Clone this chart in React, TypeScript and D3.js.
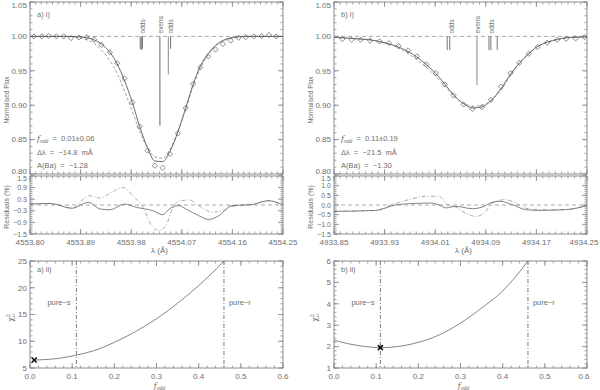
import React from 'react';
import * as d3 from 'd3';

const W = 600, H = 390;
const FONT = '"Liberation Sans", Arial, sans-serif';
const TXT = '#6e6e6e';
const AX = '#8c8c8c';

// ---------- panel a) i) : Ba 4554 ----------
const leftLambda = [4553.807, 4553.821, 4553.833, 4553.847, 4553.860, 4553.873, 4553.887, 4553.901, 4553.914, 4553.927, 4553.942, 4553.955, 4553.968, 4553.982, 4553.995, 4554.009, 4554.022, 4554.036, 4554.049, 4554.063, 4554.077, 4554.090, 4554.103, 4554.117, 4554.130, 4554.143, 4554.157, 4554.171, 4554.184, 4554.198, 4554.212, 4554.225, 4554.238];
const leftObs = [1.000, 1.000, 1.0005, 1.000, 1.000, 0.9976, 0.9985, 0.999, 0.9956, 0.9879, 0.977, 0.961, 0.939, 0.904, 0.869, 0.834, 0.812, 0.809, 0.829, 0.859, 0.896, 0.931, 0.955, 0.971, 0.981, 0.989, 0.994, 0.998, 0.999, 1.000, 1.0005, 1.002, 1.000];
const leftModelLambda = [4553.80, 4553.807, 4553.821, 4553.833, 4553.847, 4553.860, 4553.873, 4553.887, 4553.901, 4553.914, 4553.927, 4553.942, 4553.955, 4553.968, 4553.982, 4553.995, 4554.009, 4554.022, 4554.036, 4554.049, 4554.063, 4554.077, 4554.090, 4554.103, 4554.117, 4554.130, 4554.143, 4554.157, 4554.171, 4554.184, 4554.198, 4554.212, 4554.225, 4554.238, 4554.25];
const leftFit = [1.000, 1.000, 1.000, 1.000, 1.000, 1.000, 1.000, 0.9995, 0.998, 0.995, 0.989, 0.977, 0.960, 0.936, 0.904, 0.869, 0.838, 0.819, 0.818, 0.833, 0.861, 0.896, 0.930, 0.957, 0.975, 0.987, 0.994, 0.998, 0.9995, 1.000, 1.000, 1.000, 1.000, 1.000, 1.000];
const leftAlt = [1.000, 1.000, 1.000, 1.000, 1.000, 1.000, 0.9995, 0.998, 0.995, 0.990, 0.980, 0.965, 0.946, 0.921, 0.891, 0.862, 0.838, 0.825, 0.823, 0.836, 0.862, 0.894, 0.927, 0.954, 0.973, 0.986, 0.993, 0.997, 0.999, 1.000, 1.000, 1.000, 1.000, 1.000, 1.000];
const leftHfsLambda = [4553.996, 4553.998, 4554.000, 4554.031, 4554.046, 4554.050];
const leftHfsDepth = [0.018, 0.020, 0.018, 0.130, 0.055, 0.018];
const leftHfsLabelLambda = [4553.999, 4554.031, 4554.049];
const hfsLabels = ['odds', 'evens', 'odds'];

const leftResFitLambda = [4553.80, 4553.836, 4553.875, 4553.904, 4553.924, 4553.942, 4553.968, 4553.989, 4554.018, 4554.036, 4554.048, 4554.065, 4554.077, 4554.100, 4554.118, 4554.136, 4554.159, 4554.194, 4554.224, 4554.25];
const leftResFit = [0.05, 0.08, -0.17, 0.14, -0.20, -0.25, 0.05, -0.12, -0.29, -0.50, -0.20, -0.03, -0.20, -0.55, -0.75, -0.55, -0.03, 0.02, 0.22, 0.0];
const leftResAltLambda = [4553.80, 4553.836, 4553.875, 4553.895, 4553.907, 4553.924, 4553.948, 4553.965, 4553.983, 4554.001, 4554.018, 4554.030, 4554.042, 4554.053, 4554.068, 4554.083, 4554.100, 4554.124, 4554.141, 4554.159, 4554.194, 4554.224, 4554.25];
const leftResAlt = [0.05, 0.08, -0.17, 0.30, 0.48, 0.36, 0.70, 0.90, 0.48, -0.12, -1.14, -1.31, -1.06, -0.20, 0.22, 0.26, -0.03, -0.37, -0.32, -0.08, 0.02, 0.22, 0.0];

// ---------- panel b) i) : Ba 4934 ----------
const rightLambda = [4933.863, 4933.878, 4933.892, 4933.907, 4933.922, 4933.937, 4933.952, 4933.967, 4933.981, 4933.996, 4934.011, 4934.025, 4934.039, 4934.055, 4934.069, 4934.084, 4934.098, 4934.114, 4934.129, 4934.143, 4934.158, 4934.172, 4934.187, 4934.203, 4934.217, 4934.232, 4934.246];
const rightObs = [0.9961, 0.9951, 0.9951, 0.9937, 0.9927, 0.9903, 0.9859, 0.9796, 0.9709, 0.9592, 0.9466, 0.9301, 0.9141, 0.9010, 0.8947, 0.8971, 0.9078, 0.9270, 0.9466, 0.9617, 0.9748, 0.9845, 0.9908, 0.9951, 0.9966, 0.9971, 0.9990];
const rightModelLambda = [4933.85, 4933.863, 4933.878, 4933.892, 4933.907, 4933.922, 4933.937, 4933.952, 4933.967, 4933.981, 4933.996, 4934.011, 4934.025, 4934.039, 4934.055, 4934.069, 4934.084, 4934.098, 4934.114, 4934.129, 4934.143, 4934.158, 4934.172, 4934.187, 4934.203, 4934.217, 4934.232, 4934.246, 4934.25];
const rightFit = [0.9985, 0.998, 0.997, 0.9962, 0.995, 0.9925, 0.989, 0.9845, 0.978, 0.970, 0.959, 0.946, 0.931, 0.915, 0.902, 0.896, 0.8975, 0.9065, 0.924, 0.945, 0.961, 0.975, 0.9853, 0.9915, 0.9955, 0.998, 0.9988, 0.9993, 0.9995];
const rightAlt = [0.9985, 0.998, 0.997, 0.9962, 0.995, 0.9925, 0.989, 0.983, 0.975, 0.966, 0.955, 0.942, 0.928, 0.914, 0.903, 0.8985, 0.900, 0.9065, 0.922, 0.943, 0.961, 0.975, 0.9853, 0.9915, 0.9955, 0.998, 0.9988, 0.9993, 0.9995];
const rightHfsLambda = [4934.029, 4934.033, 4934.076, 4934.095, 4934.098, 4934.108];
const rightHfsDepth = [0.020, 0.020, 0.071, 0.020, 0.020, 0.020];
const rightHfsLabelLambda = [4934.035, 4934.076, 4934.099];

const rightResFitLambda = [4933.85, 4933.916, 4933.947, 4933.969, 4934.003, 4934.016, 4934.027, 4934.042, 4934.069, 4934.085, 4934.100, 4934.113, 4934.132, 4934.153, 4934.174, 4934.216, 4934.25];
const rightResFit = [-0.33, -0.28, 0.0, 0.07, 0.10, 0.0, -0.15, -0.07, -0.19, -0.10, 0.14, 0.19, 0.02, -0.24, -0.28, -0.24, -0.03];
const rightResAltLambda = [4933.85, 4933.916, 4933.942, 4933.969, 4933.995, 4934.016, 4934.029, 4934.042, 4934.063, 4934.074, 4934.090, 4934.100, 4934.121, 4934.137, 4934.153, 4934.174, 4934.216, 4934.25];
const rightResAlt = [-0.33, -0.28, 0.02, 0.28, 0.45, 0.45, 0.02, -0.10, -0.50, -0.59, -0.33, 0.10, 0.28, 0.10, -0.16, -0.24, -0.24, -0.03];

// ---------- chi-square panels ----------
const leftChiF = [0.01, 0.05, 0.08, 0.11, 0.15, 0.20, 0.25, 0.30, 0.35, 0.40, 0.43, 0.46];
const leftChi = [6.5, 6.65, 6.95, 7.4, 8.2, 9.8, 11.8, 14.2, 17.1, 20.4, 22.6, 25.0];
const rightChiF = [0.0, 0.03, 0.06, 0.09, 0.11, 0.15, 0.20, 0.25, 0.30, 0.35, 0.40, 0.43, 0.46];
const rightChi = [2.30, 2.15, 2.04, 1.97, 1.95, 2.0, 2.2, 2.55, 3.1, 3.8, 4.6, 5.25, 6.0];
const leftBest = [0.01, 6.5];
const rightBest = [0.11, 1.95];
const pureLimits = [0.11, 0.46];

// ---------- ticks & texts ----------
const leftXTicks = [4553.80, 4553.89, 4553.98, 4554.07, 4554.16, 4554.25];
const rightXTicks = [4933.85, 4933.93, 4934.01, 4934.09, 4934.17, 4934.25];
const fluxTicks = [0.80, 0.85, 0.90, 0.95, 1.00, 1.05];
const leftResTicks = [-1.5, -0.9, -0.3, 0.3, 0.9, 1.5];
const rightResTicks = [-1.5, -1.0, -0.5, 0.0, 0.5, 1.0, 1.5];
const fTicks = [0.0, 0.1, 0.2, 0.3, 0.4, 0.5, 0.6];
const leftChiTicks = [5, 10, 15, 20, 25];
const rightChiTicks = [1, 2, 3, 4, 5, 6];
const leftStats = ['0.01±0.06', '−14.8', '−1.28'];
const rightStats = ['0.11±0.19', '−21.5', '−1.30'];

const COLS = [{ x0: 30, x1: 283 }, { x0: 334, x1: 587 }];
const FLUX = { y0: 2, y1: 174 };
const RES = { y0: 176, y1: 234 };
const CHI = { y0: 261, y1: 368 };

function minorTicks(domain: number[], step: number) {
  const [a, b] = domain;
  const n = Math.round((b - a) / step);
  return d3.range(n + 1).map((i) => a + i * step);
}

type FrameProps = {
  xs: any; ys: any; xMajor: number[]; xMinorStep: number; yMajor: number[]; yMinorStep: number;
  xFmt?: (v: number) => string; yFmt: (v: number) => string; showX: boolean;
  topPad?: number; bottomPad?: number; labelSize?: number;
};

function Frame({ xs, ys, xMajor, xMinorStep, yMajor, yMinorStep, xFmt, yFmt, showX, topPad, bottomPad, labelSize }: FrameProps) {
  const [x0, x1] = xs.range();
  const [y1, y0] = ys.range();
  const xMin = minorTicks(xs.domain(), xMinorStep);
  const yMin = minorTicks(ys.domain(), yMinorStep);
  const M = 5, m = 2.5;
  const fs = labelSize || 8;
  return (
    <g>
      <rect x={x0} y={y0} width={x1 - x0} height={y1 - y0} fill="none" stroke={AX} strokeWidth={1} />
      {xMin.map((v, i) => (
        <g key={'xm' + i} stroke={AX} strokeWidth={0.8}>
          <line x1={xs(v)} x2={xs(v)} y1={y1} y2={y1 - m} />
          <line x1={xs(v)} x2={xs(v)} y1={y0} y2={y0 + m} />
        </g>
      ))}
      {xMajor.map((v, i) => (
        <g key={'xM' + i} stroke={AX} strokeWidth={0.9}>
          <line x1={xs(v)} x2={xs(v)} y1={y1} y2={y1 - M} />
          <line x1={xs(v)} x2={xs(v)} y1={y0} y2={y0 + M} />
        </g>
      ))}
      {yMin.map((v, i) => (
        <g key={'ym' + i} stroke={AX} strokeWidth={0.8}>
          <line x1={x0} x2={x0 + m} y1={ys(v)} y2={ys(v)} />
          <line x1={x1} x2={x1 - m} y1={ys(v)} y2={ys(v)} />
        </g>
      ))}
      {yMajor.map((v, i) => (
        <g key={'yM' + i} stroke={AX} strokeWidth={0.9}>
          <line x1={x0} x2={x0 + M} y1={ys(v)} y2={ys(v)} />
          <line x1={x1} x2={x1 - M} y1={ys(v)} y2={ys(v)} />
        </g>
      ))}
      {yMajor.map((v, i) => {
        let cy = ys(v);
        if (topPad !== undefined) cy = Math.max(cy, y0 + topPad);
        if (bottomPad !== undefined) cy = Math.min(cy, y1 - bottomPad);
        return (
          <text key={'yl' + i} x={x0 - 3} y={cy + fs * 0.36} textAnchor="end" fontSize={fs} fill={TXT} fontFamily={FONT}>
            {yFmt(v)}
          </text>
        );
      })}
      {showX && xFmt && xMajor.map((v, i) => (
        <text key={'xl' + i} x={Math.min(xs(v), W - 16)} y={y1 + 10.5} textAnchor="middle" fontSize={8} fill={TXT} fontFamily={FONT}>
          {xFmt(v)}
        </text>
      ))}
    </g>
  );
}

const diamond = 'M0,-2.6L2.6,0L0,2.6L-2.6,0Z';

function SpectrumColumn(props: {
  col: { x0: number; x1: number }; xDomain: number[]; xTicks: number[];
  lam: number[]; obs: number[]; mLam: number[]; fit: number[]; alt: number[];
  hfsLam: number[]; hfsDepth: number[]; hfsLabLam: number[];
  rFitLam: number[]; rFit: number[]; rAltLam: number[]; rAlt: number[];
  resTicks: number[]; resMinor: number; tag: string; stats: string[];
}) {
  const p = props;
  const xs = d3.scaleLinear().domain(p.xDomain).range([p.col.x0, p.col.x1]);
  const yf = d3.scaleLinear().domain([0.80, 1.05]).range([FLUX.y1, FLUX.y0]);
  const yr = d3.scaleLinear().domain([-1.5, 1.5]).range([RES.y1, RES.y0]);
  const mk = (ys: any) => d3.line<[number, number]>().x((d) => xs(d[0])).y((d) => ys(d[1])).curve(d3.curveMonotoneX);
  const fitPath = mk(yf)(p.mLam.map((l, i) => [l, p.fit[i]]));
  const altPath = mk(yf)(p.mLam.map((l, i) => [l, p.alt[i]]));
  const rFitPath = mk(yr)(p.rFitLam.map((l, i) => [l, p.rFit[i]]));
  const rAltPath = mk(yr)(p.rAltLam.map((l, i) => [l, p.rAlt[i]]));
  const tx = p.col.x0 + 7;
  const cx = (p.col.x0 + p.col.x1) / 2;
  return (
    <g>
      <Frame xs={xs} ys={yf} xMajor={p.xTicks} xMinorStep={0.01} yMajor={fluxTicks} yMinorStep={0.01}
        yFmt={d3.format('.2f')} showX={false} topPad={3} bottomPad={3} />
      <Frame xs={xs} ys={yr} xMajor={p.xTicks} xMinorStep={0.01} yMajor={p.resTicks} yMinorStep={p.resMinor}
        yFmt={d3.format('.1f')} xFmt={d3.format('.2f')} showX topPad={2.5} labelSize={7} />
      {/* reference lines */}
      <line x1={p.col.x0} x2={p.col.x1} y1={yf(1)} y2={yf(1)} stroke="#a0a0a0" strokeDasharray="4,3" strokeWidth={0.9} />
      <line x1={p.col.x0} x2={p.col.x1} y1={yr(0)} y2={yr(0)} stroke="#a0a0a0" strokeDasharray="4,3" strokeWidth={0.9} />
      {/* hyperfine components */}
      {p.hfsLam.map((l, i) => (
        <line key={'h' + i} x1={xs(l)} x2={xs(l)} y1={yf(1)} y2={yf(1 - p.hfsDepth[i])}
          stroke={p.hfsDepth[i] > 0.05 ? '#8a8a8a' : '#777'} strokeWidth={p.hfsDepth[i] > 0.1 ? 1.3 : 1} />
      ))}
      {p.hfsLabLam.map((l, i) => (
        <text key={'hl' + i} transform={`translate(${xs(l) + 3},${yf(1) - 3}) rotate(-90)`} fontSize={6.5}
          fill={TXT} fontFamily={FONT}>{hfsLabels[i]}</text>
      ))}
      <path d={altPath || ''} fill="none" stroke="#9a9a9a" strokeWidth={0.9} strokeDasharray="3,2" />
      <path d={fitPath || ''} fill="none" stroke="#5a5a5a" strokeWidth={0.9} />
      {p.lam.map((l, i) => (
        <path key={'o' + i} d={diamond} transform={`translate(${xs(l)},${yf(p.obs[i])})`} fill="none" stroke="#5a5a5a" strokeWidth={0.7} />
      ))}
      <path d={rAltPath || ''} fill="none" stroke="#a0a0a0" strokeWidth={0.9} strokeDasharray="4,2,1,2" />
      <path d={rFitPath || ''} fill="none" stroke="#666" strokeWidth={0.8} />
      {/* annotations */}
      <text x={tx} y={17} fontSize={7.5} fill={TXT} fontFamily={FONT}>{p.tag}</text>
      <text x={tx} y={141} fontSize={7.5} fill={TXT} fontFamily={FONT} style={{ whiteSpace: 'pre' }}>
        <tspan fontStyle="italic" fontFamily="'DejaVu Serif', serif" fontSize={8}>f</tspan>
        <tspan fontSize={5} dy={2} fontStyle="italic">odd</tspan>
        <tspan dy={-2}>{'  =  ' + p.stats[0]}</tspan>
      </text>
      <text x={tx} y={155} fontSize={7.5} fill={TXT} fontFamily={FONT} style={{ whiteSpace: 'pre' }}>
        {'Δλ  =  ' + p.stats[1] + '  mÅ'}
      </text>
      <text x={tx} y={168} fontSize={7.5} fill={TXT} fontFamily={FONT} style={{ whiteSpace: 'pre' }}>
        {'A(Ba)  =  ' + p.stats[2]}
      </text>
      <text transform={`translate(${p.col.x0 - 21},100) rotate(-90)`} textAnchor="middle" fontSize={6.5} fill={TXT} fontFamily={FONT}>
        Normalised Flux
      </text>
      <text transform={`translate(${p.col.x0 - 21},207) rotate(-90)`} textAnchor="middle" fontSize={7} fill={TXT} fontFamily={FONT}>
        Residuals (%)
      </text>
      <text x={cx + 3} y={253} textAnchor="middle" fontSize={8} fill={TXT} fontFamily={FONT}>λ (Å)</text>
    </g>
  );
}

function ChiColumn(props: {
  col: { x0: number; x1: number }; yDomain: number[]; yTicks: number[]; yMinor: number;
  f: number[]; chi: number[]; best: number[]; tag: string;
}) {
  const p = props;
  const xs = d3.scaleLinear().domain([0, 0.6]).range([p.col.x0, p.col.x1]);
  const ys = d3.scaleLinear().domain(p.yDomain).range([CHI.y1, CHI.y0]);
  const path = d3.line<[number, number]>().x((d) => xs(d[0])).y((d) => ys(d[1])).curve(d3.curveMonotoneX)(
    p.f.map((v, i) => [v, p.chi[i]])
  );
  const bx = xs(p.best[0]), by = ys(p.best[1]);
  const cx = (p.col.x0 + p.col.x1) / 2;
  return (
    <g>
      <Frame xs={xs} ys={ys} xMajor={fTicks} xMinorStep={0.02} yMajor={p.yTicks} yMinorStep={p.yMinor}
        yFmt={d3.format('d')} xFmt={d3.format('.1f')} showX />
      {pureLimits.map((v, i) => (
        <line key={'p' + i} x1={xs(v)} x2={xs(v)} y1={CHI.y0} y2={CHI.y1} stroke="#6a6a6a" strokeWidth={0.9} strokeDasharray="4,2,1,2" />
      ))}
      <path d={path || ''} fill="none" stroke="#777" strokeWidth={0.9} />
      <g stroke="#111" strokeWidth={1.6}>
        <line x1={bx - 2.5} x2={bx + 2.5} y1={by - 2.5} y2={by + 2.5} />
        <line x1={bx - 2.5} x2={bx + 2.5} y1={by + 2.5} y2={by - 2.5} />
      </g>
      <text x={p.col.x0 + 7} y={272} fontSize={7.5} fill={TXT} fontFamily={FONT}>{p.tag}</text>
      <text x={xs(pureLimits[0]) - 29} y={305} fontSize={7.5} fill={TXT} fontFamily={FONT}>pure−s</text>
      <text x={xs(pureLimits[1]) + 5} y={305} fontSize={7.5} fill={TXT} fontFamily={FONT}>pure−r</text>
      <text transform={`translate(${p.col.x0 - 17},318) rotate(-90)`} textAnchor="middle" fontSize={8} fill={TXT} fontFamily="'DejaVu Serif', serif">
        <tspan>χ</tspan>
        <tspan fontSize={5} dy={-3}>2</tspan>
        <tspan fontSize={5} dx={-3} dy={5}>ν</tspan>
      </text>
      <text x={cx + 3} y={388} textAnchor="middle" fontSize={8} fill={TXT}>
        <tspan fontStyle="italic" fontFamily="'DejaVu Serif', serif">f</tspan>
        <tspan fontSize={5} dy={2} fontStyle="italic" fontFamily={FONT}>odd</tspan>
      </text>
    </g>
  );
}

export default function App() {
  return (
    <svg width={W} height={H} viewBox={`0 0 ${W} ${H}`} style={{ position: 'absolute', left: 0, top: 0, background: '#fff' }}>
      <rect width={W} height={H} fill="#fff" />
      <SpectrumColumn col={COLS[0]} xDomain={[4553.80, 4554.25]} xTicks={leftXTicks}
        lam={leftLambda} obs={leftObs} mLam={leftModelLambda} fit={leftFit} alt={leftAlt}
        hfsLam={leftHfsLambda} hfsDepth={leftHfsDepth} hfsLabLam={leftHfsLabelLambda}
        rFitLam={leftResFitLambda} rFit={leftResFit} rAltLam={leftResAltLambda} rAlt={leftResAlt}
        resTicks={leftResTicks} resMinor={0.1} tag="a) i)" stats={leftStats} />
      <SpectrumColumn col={COLS[1]} xDomain={[4933.85, 4934.25]} xTicks={rightXTicks}
        lam={rightLambda} obs={rightObs} mLam={rightModelLambda} fit={rightFit} alt={rightAlt}
        hfsLam={rightHfsLambda} hfsDepth={rightHfsDepth} hfsLabLam={rightHfsLabelLambda}
        rFitLam={rightResFitLambda} rFit={rightResFit} rAltLam={rightResAltLambda} rAlt={rightResAlt}
        resTicks={rightResTicks} resMinor={0.1} tag="b) i)" stats={rightStats} />
      <ChiColumn col={COLS[0]} yDomain={[5, 25]} yTicks={leftChiTicks} yMinor={1} f={leftChiF} chi={leftChi} best={leftBest} tag="a) ii)" />
      <ChiColumn col={COLS[1]} yDomain={[1, 6]} yTicks={rightChiTicks} yMinor={0.2} f={rightChiF} chi={rightChi} best={rightBest} tag="b) ii)" />
    </svg>
  );
}
